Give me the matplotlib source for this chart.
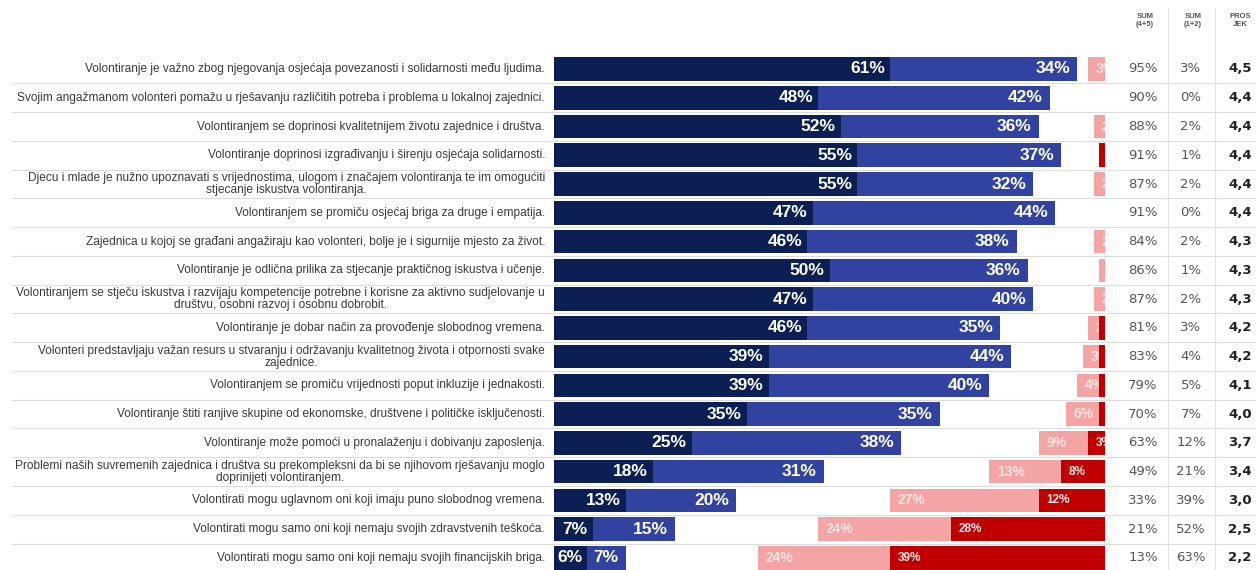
import numpy as np
import matplotlib
matplotlib.use("Agg")
import matplotlib.pyplot as plt
from matplotlib.transforms import blended_transform_factory

# Statements (top to bottom)
statements = [
    "Volontiranje je važno zbog njegovanja osjećaja povezanosti i solidarnosti među ljudima.",
    "Svojim angažmanom volonteri pomažu u rješavanju različitih potreba i problema u lokalnoj zajednici.",
    "Volontiranjem se doprinosi kvalitetnijem životu zajednice i društva.",
    "Volontiranje doprinosi izgrađivanju i širenju osjećaja solidarnosti.",
    "Djecu i mlade je nužno upoznavati s vrijednostima, ulogom i značajem volontiranja te im omogućiti\nstjecanje iskustva volontiranja.",
    "Volontiranjem se promiču osjećaj briga za druge i empatija.",
    "Zajednica u kojoj se građani angažiraju kao volonteri, bolje je i sigurnije mjesto za život.",
    "Volontiranje je odlična prilika za stjecanje praktičnog iskustva i učenje.",
    "Volontiranjem se stječu iskustva i razvijaju kompetencije potrebne i korisne za aktivno sudjelovanje u\ndruštvu, osobni razvoj i osobnu dobrobit.",
    "Volontiranje je dobar način za provođenje slobodnog vremena.",
    "Volonteri predstavljaju važan resurs u stvaranju i održavanju kvalitetnog života i otpornosti svake\nzajednice.",
    "Volontiranjem se promiču vrijednosti poput inkluzije i jednakosti.",
    "Volontiranje štiti ranjive skupine od ekonomske, društvene i političke isključenosti.",
    "Volontiranje može pomoći u pronalaženju i dobivanju zaposlenja.",
    "Problemi naših suvremenih zajednica i društva su prekompleksni da bi se njihovom rješavanju moglo\ndoprinijeti volontiranjem.",
    "Volontirati mogu uglavnom oni koji imaju puno slobodnog vremena.",
    "Volontirati mogu samo oni koji nemaju svojih zdravstvenih teškoća.",
    "Volontirati mogu samo oni koji nemaju svojih financijskih briga.",
]

# answer shares in % (5 = fully agree ... 1 = fully disagree)
share_5 = [61, 48, 52, 55, 55, 47, 46, 50, 47, 46, 39, 39, 35, 25, 18, 13, 7, 6]
share_4 = [34, 42, 36, 37, 32, 44, 38, 36, 40, 35, 44, 40, 35, 38, 31, 20, 15, 7]
share_2 = [3, 0, 2, 0, 2, 0, 2, 1, 2, 2, 3, 4, 6, 9, 13, 27, 24, 24]
share_1 = [0, 0, 0, 1, 0, 0, 0, 0, 0, 1, 1, 1, 1, 3, 8, 12, 28, 39]

sum_45 = ["95%", "90%", "88%", "91%", "87%", "91%", "84%", "86%", "87%",
          "81%", "83%", "79%", "70%", "63%", "49%", "33%", "21%", "13%"]
sum_12 = ["3%", "0%", "2%", "1%", "2%", "0%", "2%", "1%", "2%",
          "3%", "4%", "5%", "7%", "12%", "21%", "39%", "52%", "63%"]
prosjek = ["4,5", "4,4", "4,4", "4,4", "4,4", "4,4", "4,3", "4,3", "4,3",
           "4,2", "4,2", "4,1", "4,0", "3,7", "3,4", "3,0", "2,5", "2,2"]

table_headers = ["SUM\n(4+5)", "SUM\n(1+2)", "PROS\nJEK"]

C_NAVY = "#0c1f54"
C_BLUE = "#3142a0"
C_PINK = "#f4a4a4"
C_RED = "#c00000"

W, H = 1256, 570
fig = plt.figure(figsize=(W / 100, H / 100), dpi=100)
plt.rcParams["font.family"] = ["Liberation Sans", "DejaVu Sans"]

ax = fig.add_axes([554 / W, 0, (1105 - 554) / W, (570 - 54.6) / H])
ax.set_xlim(0, 100)
ax.set_ylim(17.42, -0.5)
ax.axis("off")

y = np.arange(len(statements))
s5 = np.array(share_5)
s4 = np.array(share_4)
s2 = np.array(share_2)
s1 = np.array(share_1)
bh = 0.82

bars5 = ax.barh(y, s5, height=bh, color=C_NAVY, zorder=3)
bars4 = ax.barh(y, s4, left=s5, height=bh, color=C_BLUE, zorder=3)
bars2 = ax.barh(y, s2, left=100 - s1 - s2, height=bh, color=C_PINK, zorder=3)
bars1 = ax.barh(y, s1, left=100 - s1, height=bh, color=C_RED, zorder=3)

px = lambda v: v / W
tr = blended_transform_factory(fig.transFigure, ax.transData)
dx = 5 / 551 * 100  # ~5 px in data units


def seg_label(bar, val, align, color, size, pad):
    if val <= 0:
        return
    x0, w = bar.get_x(), bar.get_width()
    if align == "right":
        xt, ha = x0 + w - pad, "right"
    else:
        xt, ha = x0 + pad, "left"
    t = ax.text(xt, bar.get_y() + bar.get_height() / 2, f"{val}%", ha=ha,
                va="center", color=color, fontsize=size, fontweight="bold",
                zorder=5)
    # labels that don't fit get cut by their bar, like in the original
    t.set_clip_path(bar)
    t.set_clip_on(True)


for i in range(len(statements)):
    seg_label(bars5[i], share_5[i], "right", "white", 12.5, dx)
    seg_label(bars4[i], share_4[i], "right", "white", 12.5, dx * 1.4)
    seg_label(bars2[i], share_2[i], "left", "#fde3e3", 10, dx * 1.5)
    seg_label(bars1[i], share_1[i], "left", "#ffe8e8", 8.5, dx * 1.5)

    # statement text
    ax.text(px(545), i, statements[i], transform=tr, ha="right", va="center",
            multialignment="center", fontsize=8.6, color="#3a3a3a",
            linespacing=1.0)

    # table
    ax.text(px(1143), i, sum_45[i], transform=tr, ha="center", va="center",
            fontsize=9.5, color="#555555", family="DejaVu Sans")
    ax.text(px(1191), i, sum_12[i], transform=tr, ha="center", va="center",
            fontsize=9.5, color="#555555", family="DejaVu Sans")
    ax.text(px(1240), i, prosjek[i], transform=tr, ha="center", va="center",
            fontsize=9.5, color="#222222", fontweight="bold",
            family="DejaVu Sans")

# row separators spanning the whole width
for b in np.arange(len(statements) - 1) + 0.5:
    ax.plot([px(12), 1.0], [b, b], transform=tr, color="#dcdcdc", lw=0.8,
            zorder=1, clip_on=False)

# vertical lines in table
for xv in [1168, 1215]:
    fig.add_artist(plt.Line2D([px(xv), px(xv)], [0, 1 - 8 / H],
                              transform=fig.transFigure, color="#e3e3e3",
                              lw=0.8, zorder=0))

for xh, lab in zip([1145, 1193, 1240], table_headers):
    fig.text(px(xh), 1 - 20 / H, lab, ha="center", va="center", fontsize=5.5,
             fontweight="bold", color="#555555", linespacing=1.2)

fig.savefig("out.png", dpi=100, facecolor="white")
